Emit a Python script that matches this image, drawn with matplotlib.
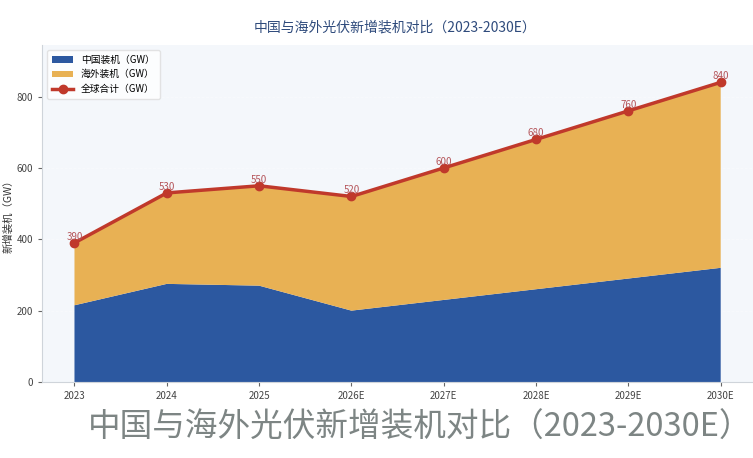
import matplotlib
matplotlib.use("Agg")
import matplotlib.pyplot as plt
import numpy as np

plt.rcParams['font.family'] = ['Noto Sans CJK SC', 'DejaVu Sans']

years = ["2023", "2024", "2025", "2026E", "2027E", "2028E", "2029E", "2030E"]
china = [215, 275, 270, 200, 230, 260, 290, 320]
total = [390, 530, 550, 520, 600, 680, 760, 840]
overseas = [t - c for t, c in zip(total, china)]

fig = plt.figure(figsize=(7.53, 4.58), dpi=100)
ax = fig.add_axes([0.056, 0.166, 0.944, 0.736])
ax.set_facecolor('#f4f7fb')

x = np.arange(len(years))
ax.stackplot(x, china, overseas, colors=['#2c58a0', '#e8b154'],
             labels=['中国装机（GW）', '海外装机（GW）'], zorder=2)
ax.plot(x, total, color='#c0392b', lw=2.5, marker='o', ms=6,
        label='全球合计（GW）', zorder=4)
for xi, t in zip(x, total):
    ax.text(xi, t + 3, str(t), ha='center', va='bottom', fontsize=7,
            color='#b5555a', zorder=5)

ax.set_xlim(-0.35, 7.35)
ax.set_ylim(0, 945)
ax.set_yticks([0, 200, 400, 600, 800])
ax.set_xticks(x)
ax.set_xticklabels(years)
ax.tick_params(labelsize=7, colors='#444444', length=3, color='#666666')
ax.set_ylabel('新增装机（GW）', fontsize=7.5, color='#333333', labelpad=2)
ax.grid(axis='y', color='#e6e9ee', lw=0.8, zorder=3)
ax.grid(axis='y', color='#ffffff', lw=0.6, ls='--', alpha=0.35, zorder=3)
for s in ['top', 'right']:
    ax.spines[s].set_visible(False)
for s in ['left', 'bottom']:
    ax.spines[s].set_color('#cfd4da')

ax.legend(loc='upper left', fontsize=7, frameon=True, facecolor='white',
          edgecolor='#dddddd', borderpad=0.5, handlelength=2.2,
          bbox_to_anchor=(0.0, 1.0))

fig.text(0.525, 0.941, '中国与海外光伏新增装机对比（2023-2030E）', ha='center',
         va='center', fontsize=10, color='#2f4b7c', fontweight='medium')

fig.text(0.558, 0.066, '中国与海外光伏新增装机对比（2023-2030E）', ha='center',
         va='center', fontsize=23.5, color='#7d8584', fontweight='medium')

fig.savefig('out.png', dpi=100)
